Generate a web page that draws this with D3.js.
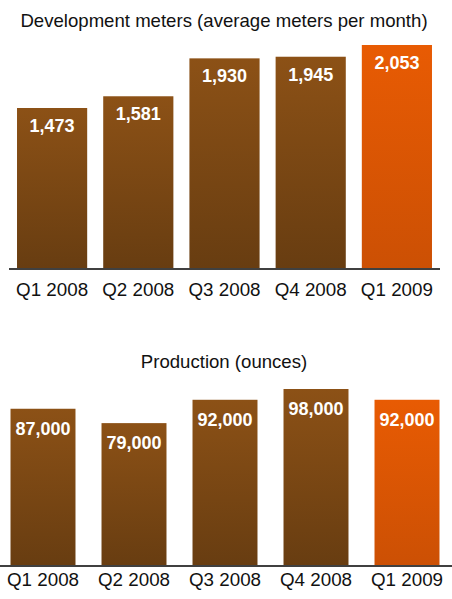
<!DOCTYPE html>
<html>
<head>
<meta charset="utf-8">
<script src="https://cdn.jsdelivr.net/npm/d3@7"></script>
<style>
  body { margin: 0; background: #fff; }
  text { font-family: "Liberation Sans", Arial, sans-serif; }
</style>
</head>
<body>
<div id="chart"></div>
<script>
var quarters = ["Q1 2008", "Q2 2008", "Q3 2008", "Q4 2008", "Q1 2009"];
var devMeters = [1473, 1581, 1930, 1945, 2053];
var production = [87000, 79000, 92000, 98000, 92000];
var highlight = "Q1 2009";

var width = 452, height = 599;

var svg = d3.select("#chart")
  .append("svg")
  .attr("width", width)
  .attr("height", height);

// gradients for the bars
var defs = svg.append("defs");
function grad(id, top, bottom) {
  var g = defs.append("linearGradient")
    .attr("id", id)
    .attr("x1", 0).attr("y1", 0).attr("x2", 0).attr("y2", 1);
  g.append("stop").attr("offset", "0%").attr("stop-color", top);
  g.append("stop").attr("offset", "100%").attr("stop-color", bottom);
}
grad("brown", "#8c5116", "#683d11");
grad("orange", "#e85b03", "#cc5004");

var fmt = d3.format(",");

function drawChart(cfg) {
  var x = d3.scaleBand()
    .domain(quarters)
    .range(cfg.xRange)
    .paddingInner(cfg.pad)
    .paddingOuter(cfg.pad / 2);

  var y = d3.scaleLinear()
    .domain([0, cfg.max])
    .range([cfg.base, cfg.base - cfg.span]);

  var g = svg.append("g");

  g.append("text")
    .attr("x", cfg.titleX)
    .attr("y", cfg.titleY)
    .attr("text-anchor", "middle")
    .style("font-size", "18.6px")
    .style("fill", "#111")
    .text(cfg.title);

  g.selectAll("rect")
    .data(cfg.values)
    .join("rect")
    .attr("x", (d, i) => x(quarters[i]))
    .attr("width", x.bandwidth())
    .attr("y", d => y(d))
    .attr("height", d => cfg.base - y(d))
    .attr("fill", (d, i) => quarters[i] == highlight ? "url(#orange)" : "url(#brown)");

  g.selectAll("text.val")
    .data(cfg.values)
    .join("text")
    .attr("class", "val")
    .attr("x", (d, i) => x(quarters[i]) + x.bandwidth() / 2)
    .attr("y", d => y(d) + cfg.labelOff)
    .attr("text-anchor", "middle")
    .style("font-size", "18px")
    .style("font-weight", "bold")
    .style("fill", "#fff")
    .text(d => fmt(d));

  // baseline
  g.append("line")
    .attr("x1", cfg.axisX[0]).attr("x2", cfg.axisX[1])
    .attr("y1", cfg.base + 1).attr("y2", cfg.base + 1)
    .attr("stroke", "#404040")
    .attr("stroke-width", 2);

  g.selectAll("text.cat")
    .data(quarters)
    .join("text")
    .attr("class", "cat")
    .attr("x", d => x(d) + x.bandwidth() / 2)
    .attr("y", cfg.catY)
    .attr("text-anchor", "middle")
    .style("font-size", "18.8px")
    .style("fill", "#111")
    .text(d => d);
}

drawChart({
  title: "Development meters (average meters per month)",
  titleX: 224, titleY: 27,
  values: devMeters, max: 2053, span: 223,
  base: 268, xRange: [9, 440], pad: 0.186,
  axisX: [9, 440], labelOff: 24, catY: 296
});

drawChart({
  title: "Production (ounces)",
  titleX: 224, titleY: 368,
  values: production, max: 98000, span: 176,
  base: 565, xRange: [-2.5, 452.5], pad: 0.286,
  axisX: [0, 452], labelOff: 26, catY: 586
});
</script>
</body>
</html>
